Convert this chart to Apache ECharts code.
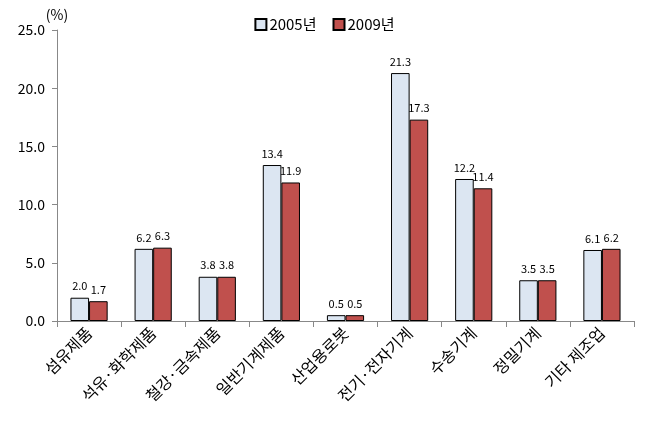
<!DOCTYPE html>
<html><head><meta charset="utf-8">
<script src="https://cdn.jsdelivr.net/npm/echarts@6/dist/echarts.min.js"></script>
<style>html,body{margin:0;padding:0;background:#fff}#c{width:649px;height:424px}</style>
</head><body><div id="c"></div>
<script>
const categories = ['섬유제품','석유·화학제품','철강·금속제품','일반기계제품','산업용로봇','전기·전자기계','수송기계','정밀기계','기타 제조업'];
const seriesNames = ['2005년','2009년'];
const values2005 = [2.0, 6.2, 3.8, 13.4, 0.5, 21.3, 12.2, 3.5, 6.1];
const values2009 = [1.7, 6.3, 3.8, 11.9, 0.5, 17.3, 11.4, 3.5, 6.2];
const yTicks = [0, 5, 10, 15, 20, 25];

const font = '"Noto Sans CJK KR", "Noto Sans", sans-serif';
const chart = echarts.init(document.getElementById('c'));
const lbl = {show:true, position:'top', distance:6, fontSize:11, color:'#000', fontFamily:font, formatter: p => p.value.toFixed(1)};
chart.setOption({
  animation:false,
  textStyle:{fontFamily:font},
  legend:{top:12, left:'center', icon:'rect', itemWidth:11, itemHeight:11, itemGap:16,
    textStyle:{fontSize:15, color:'#000', fontFamily:font, padding:[0,0,0,-2]}, data:seriesNames},
  grid:{left:57, right:15, top:30, bottom:103, containLabel:false},
  xAxis:{type:'category', data:categories,
    axisLine:{lineStyle:{color:'#888'}},
    axisTick:{show:true, alignWithLabel:false, length:6, lineStyle:{color:'#888'}},
    axisLabel:{rotate:45, fontSize:16, color:'#000', margin:9, interval:0, fontFamily:font}},
  yAxis:{type:'value', min:yTicks[0], max:yTicks[yTicks.length-1], interval:5,
    name:'(%)', nameLocation:'end', nameGap:8, nameTextStyle:{fontSize:14, color:'#000', align:'center', fontFamily:font},
    axisLine:{show:true, lineStyle:{color:'#888'}},
    axisTick:{show:true, length:5, lineStyle:{color:'#888'}},
    splitLine:{show:false},
    axisLabel:{fontSize:14, color:'#000', margin:12, formatter: v => v.toFixed(1), fontFamily:font}},
  series:[
    {name:seriesNames[0], type:'bar', data:values2005, barGap:'0%', barCategoryGap:'42%',
      itemStyle:{color:'#DCE6F2', borderColor:'#000', borderWidth:1}, label:lbl},
    {name:seriesNames[1], type:'bar', data:values2009,
      itemStyle:{color:'#C0504D', borderColor:'#000', borderWidth:1}, label:lbl}
  ]
});
</script></body></html>
